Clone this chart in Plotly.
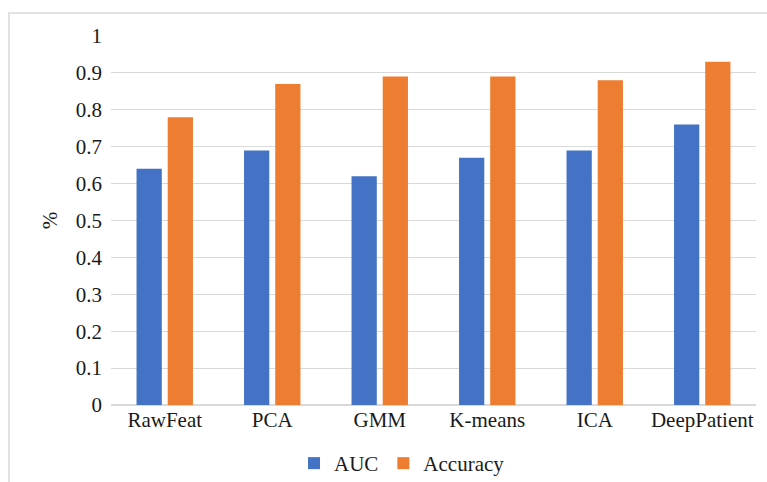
import plotly.graph_objects as go

# Methods compared and their scores
methods = ["RawFeat", "PCA", "GMM", "K-means", "ICA", "DeepPatient"]
auc = [0.64, 0.69, 0.62, 0.67, 0.69, 0.76]
accuracy = [0.78, 0.87, 0.89, 0.89, 0.88, 0.93]
y_ticks = [0, 0.1, 0.2, 0.3, 0.4, 0.5, 0.6, 0.7, 0.8, 0.9, 1]
y_tick_text = ["0", "0.1", "0.2", "0.3", "0.4", "0.5", "0.6", "0.7", "0.8", "0.9", "1"]

W, H = 767, 482
L, R, T, B = 111, 11, 36, 77
pw, ph = W - L - R, H - T - B

FONT = dict(family="Liberation Serif, Times New Roman, serif", size=21, color="#1a1a1a")
GRID = "#d9d9d9"

fig = go.Figure()
fig.add_trace(go.Bar(name="AUC", x=methods, y=auc, marker=dict(color="#4472C4", line=dict(width=0))))
fig.add_trace(go.Bar(name="Accuracy", x=methods, y=accuracy, marker=dict(color="#ED7D31", line=dict(width=0))))


def px_x(p):
    return (p - L) / pw


def px_y(p):
    return (H - B - p) / ph


fig.update_layout(
    width=W,
    height=H,
    margin=dict(l=L, r=R, t=T, b=B, pad=0, autoexpand=False),
    paper_bgcolor="white",
    plot_bgcolor="white",
    font=FONT,
    barmode="group",
    bargap=0.42,
    bargroupgap=0.19,
    showlegend=True,
    legend=dict(
        orientation="h",
        x=px_x(402),
        xanchor="center",
        y=px_y(443),
        yanchor="top",
        font=FONT,
        itemwidth=30,
        traceorder="normal",
        bgcolor="rgba(0,0,0,0)",
    ),
    xaxis=dict(
        showgrid=False,
        showline=False,
        ticks="",
        tickfont=FONT,
        zeroline=False,
        automargin=False,
    ),
    yaxis=dict(
        range=[0, 1],
        tickvals=y_ticks,
        ticktext=y_tick_text,
        showgrid=True,
        gridcolor=GRID,
        gridwidth=1,
        zeroline=True,
        zerolinecolor=GRID,
        zerolinewidth=1.5,
        showline=False,
        ticks="",
        ticklabelstandoff=8,
        tickfont=FONT,
        automargin=False,
        title=dict(text="%", font=FONT, standoff=12),
    ),
    shapes=[
        dict(
            type="rect",
            xref="paper",
            yref="paper",
            x0=px_x(9),
            x1=px_x(780),
            y0=px_y(495),
            y1=px_y(13),
            line=dict(color=GRID, width=1.5),
            fillcolor="rgba(0,0,0,0)",
            layer="below",
        )
    ],
)

fig.write_html("out.html")
